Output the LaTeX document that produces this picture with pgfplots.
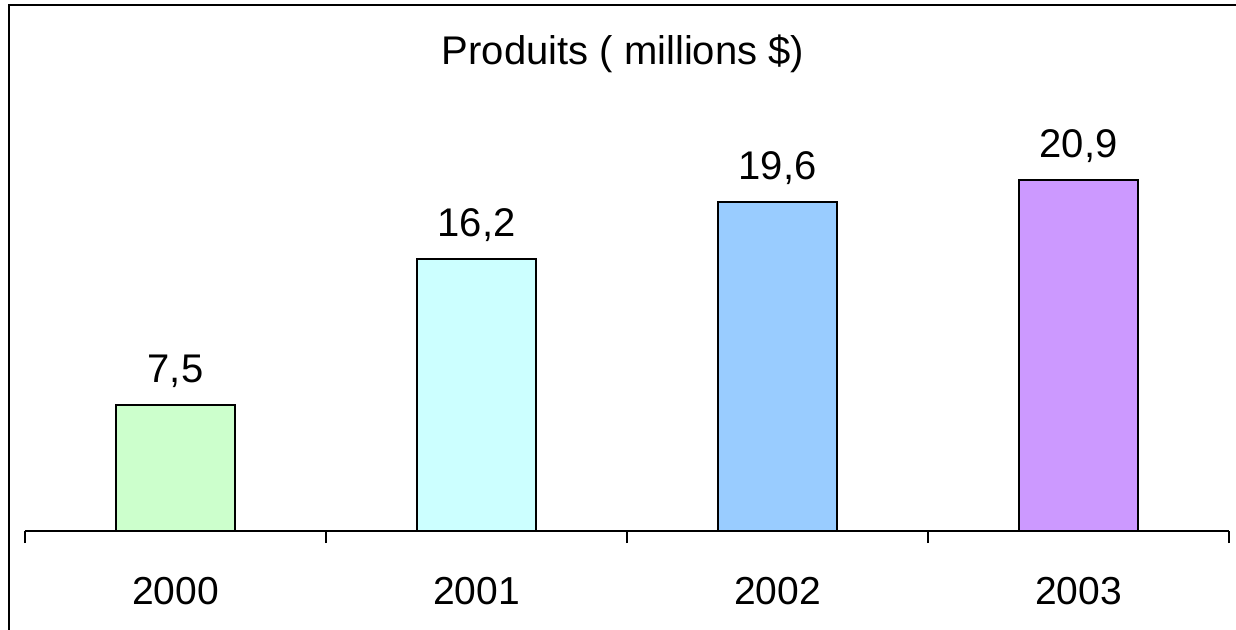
\documentclass[border=0pt]{standalone}
\usepackage{pgfplots}
\pgfplotsset{compat=1.18}
\usepackage{fontspec}
\setmainfont{Liberation Sans}
\definecolor{cA}{HTML}{CCFFCC}
\definecolor{cB}{HTML}{CCFFFF}
\definecolor{cC}{HTML}{99CCFF}
\definecolor{cD}{HTML}{CC99FF}
\begin{document}
\begin{tikzpicture}
\useasboundingbox (0,0) rectangle (1236bp,630bp);
\fill[white] (0,0) rectangle (1236bp,630bp);
\draw[line width=2.5bp] (9bp,-5bp) -- (9bp,625bp) -- (1245bp,625bp);
\node[anchor=base, inner sep=0pt, font=\fontsize{40bp}{44bp}\selectfont] at (623bp,565bp) {Produits ( millions \$)};
\begin{axis}[
  at={(25bp,99bp)}, anchor=south west,
  scale only axis, width=1204bp, height=420bp,
  xmin=-0.5, xmax=3.5, ymin=0, ymax=25,
  axis y line=none, axis x line*=bottom,
  x axis line style={line width=2bp, black},
  xtick={0,1,2,3}, xticklabels={2000,2001,2002,2003},
  major tick length=0pt,
  extra x ticks={-0.5,0.5,1.5,2.5,3.5},
  extra x tick labels={},
  extra x tick style={major tick length=12bp, tick align=outside, tick style={line width=2bp, black}},
  xticklabel style={font=\fontsize{39bp}{43bp}\selectfont, anchor=north, inner sep=0pt, yshift=-46bp},
  ybar, bar width=119bp, bar shift=0pt,
  point meta=explicit symbolic,
  nodes near coords,
  nodes near coords style={font=\fontsize{40bp}{44bp}\selectfont, anchor=base, inner sep=0pt, yshift=22bp, text=black},
  clip=false,
]
\addplot[fill=cA, draw=black, line width=2bp] coordinates {(0,7.5) [7,5]};
\addplot[fill=cB, draw=black, line width=2bp] coordinates {(1,16.2) [16,2]};
\addplot[fill=cC, draw=black, line width=2bp] coordinates {(2,19.6) [19,6]};
\addplot[fill=cD, draw=black, line width=2bp] coordinates {(3,20.9) [20,9]};
\end{axis}
\end{tikzpicture}
\end{document}
